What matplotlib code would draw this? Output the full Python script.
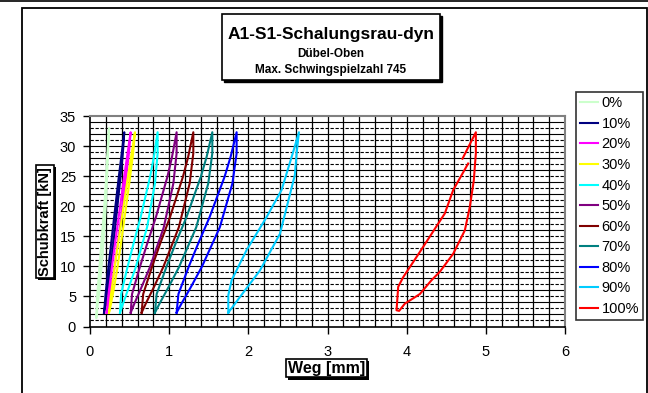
import matplotlib
matplotlib.use("Agg")
import matplotlib.pyplot as plt
from matplotlib.patches import Rectangle
from matplotlib.lines import Line2D
import matplotlib.patheffects as pe

plt.rcParams['font.family'] = ['Liberation Sans', 'DejaVu Sans']

y_up = [2.3, 5.4, 9.9, 13.8, 18.2, 24.9, 28.2, 32.3]
y_down = [28.8, 23.8, 16.5, 9.9, 6.6, 3.8, 2.3]

labels = ['0%', '10%', '20%', '30%', '40%', '50%', '60%', '70%', '80%', '90%', '100%']
colors = ['#CCFFCC', '#000080', '#FF00FF', '#FFFF00', '#00FFFF', '#800080',
          '#800000', '#008080', '#0000FF', '#00CCFF', '#FF0000']

# 0 %: almost a single line
x0 = [0.08, 0.09, 0.12, 0.15, 0.18, 0.205, 0.225, 0.24, 0.225, 0.20, 0.16, 0.12, 0.10, 0.085, 0.08]
y0 = [1.5, 5.0, 10.0, 15.0, 20.0, 25.0, 30.0, 33.0, 28.0, 20.0, 12.0, 6.0, 4.0, 2.0, 1.5]

x10 = [.177, .197, .233, .267, .305, .364, .395, .433, .415, .377, .318, .261, .228, .197, .177]
x20 = [.21, .234, .277, .316, .362, .431, .468, .513, .492, .446, .377, .310, .271, .234, .21]
x30 = [.24, .266, .312, .355, .404, .479, .519, .568, .545, .496, .420, .348, .306, .266, .24]
x40 = [.379, .393, .474, .550, .640, .759, .807, .854, .854, .821, .721, .579, .493, .417, .379]
x50 = [.514, .531, .630, .723, .833, .978, 1.036, 1.094, 1.094, 1.053, .932, .758, .653, .560, .514]
x60 = [.652, .672, .783, .887, 1.011, 1.174, 1.240, 1.305, 1.305, 1.259, 1.122, .926, .809, .704, .652]
x70 = [.82, .842, .965, 1.081, 1.219, 1.40, 1.473, 1.545, 1.545, 1.494, 1.342, 1.125, .994, .878, .82]
x80 = [1.094, 1.117, 1.246, 1.367, 1.511, 1.700, 1.776, 1.852, 1.852, 1.799, 1.640, 1.412, 1.276, 1.155, 1.094]

# 90 %
x90 = [1.747, 1.747, 1.789, 1.978, 2.231, 2.42, 2.567, 2.639,
       2.61, 2.588, 2.399, 2.146, 1.894, 1.747]
y90 = [2.3, 5.2, 7.7, 12.7, 18.2, 22.7, 29.05, 32.3,
       28.8, 25.2, 15.4, 9.3, 4.9, 2.3]

# 100 %
x100 = [4.705, 4.874, 4.874, 4.848, 4.798, 4.735, 4.588, 4.419, 4.314, 4.167, 3.977, 3.905,
        3.872, 3.893, 3.956, 4.167, 4.482, 4.588, 4.777]
y100 = [27.9, 32.3, 28.8, 24.3, 19.9, 16.0, 12.1, 9.1, 7.7, 5.4, 3.8, 2.6,
        2.7, 6.6, 8.2, 12.4, 18.8, 22.7, 27.1]

y_loop = y_up + y_down
series_x = [x0, x10, x20, x30, x40, x50, x60, x70, x80, x90, x100]
series_y = [y0, y_loop, y_loop, y_loop, y_loop, y_loop, y_loop, y_loop, y_loop, y90, y100]

W, H = 648, 393
fig = plt.figure(figsize=(W / 100, H / 100), dpi=100)

# outer frames
fig.add_artist(Line2D([0, 1], [1 - 1 / H, 1 - 1 / H], color='black', lw=1.2))
fig.add_artist(Rectangle((22 / W, -0.05), (647 - 22) / W, 1.05 - 8 / H, fill=False,
                         edgecolor='black', lw=1.3, transform=fig.transFigure))

ax = fig.add_axes([90 / W, (H - 326.5) / H, 475 / W, 210.5 / H])

for xs, ys, c, lab in zip(series_x, series_y, colors, labels):
    ax.plot(xs, ys, color=c, lw=1.5, label=lab)

ax.set_xlim(0, 6)
ax.set_ylim(0, 35)
ax.set_xticks(range(0, 7))
ax.set_yticks(range(0, 36, 5))
ax.tick_params(which='major', direction='out', length=5, width=1, labelsize=10.5, pad=5)
ax.tick_params(axis='x', which='major', pad=8)
# vertical grid every 0.2 mm, horizontal: dashed every kN, solid every 2 kN
for gx in [i * 0.2 for i in range(1, 30)]:
    ax.axvline(gx, color='black', lw=0.9, zorder=0.5)
for gy in range(1, 35, 2):
    ax.axhline(gy, color='black', lw=0.8, ls=(0, (3, 1.5)), zorder=0.5)
for gy in range(2, 35, 2):
    ax.axhline(gy, color='black', lw=0.8, zorder=0.5)
for s in ['top', 'right']:
    ax.spines[s].set_color('#808080')
    ax.spines[s].set_linewidth(1.5)
ax.spines['left'].set_linewidth(1.2)
ax.spines['bottom'].set_linewidth(1.2)

# title box
fig.add_artist(Rectangle((224 / W, 1 - 82 / H), 218 / W, 66 / H, facecolor='black',
                         edgecolor='black', transform=fig.transFigure))
fig.add_artist(Rectangle((222 / W, 1 - 80 / H), 218 / W, 66 / H, facecolor='white',
                         edgecolor='black', lw=1.2, transform=fig.transFigure))
fig.text(331 / W, 1 - 34 / H, 'A1-S1-Schalungsrau-dyn', ha='center', va='center',
         fontsize=12.5, fontweight='bold')
fig.text(331 / W, 1 - 54 / H, 'Dübel-Oben', ha='center', va='center',
         fontsize=8.5, fontweight='bold')
fig.text(331 / W, 1 - 70 / H, 'Max. Schwingspielzahl 745', ha='center', va='center',
         fontsize=8.5, fontweight='bold')

shadow = [pe.SimplePatchShadow(offset=(1.5, -1.5), shadow_rgbFace='black', alpha=1), pe.Normal()]
ty = fig.text(45 / W, 1 - 221.5 / H, 'Schubkraft [kN]', rotation=90, ha='center', va='center',
              fontsize=10.5, fontweight='bold',
              bbox=dict(boxstyle='square,pad=0.15', facecolor='white', edgecolor='black', lw=1.2))
tx = fig.text(326.7 / W, 1 - 368 / H, 'Weg [mm]', ha='center', va='center',
              fontsize=11.5, fontweight='bold',
              bbox=dict(boxstyle='square,pad=0.12', facecolor='white', edgecolor='black', lw=1.2))
fig.canvas.draw()
ty.get_bbox_patch().set_path_effects(shadow)
tx.get_bbox_patch().set_path_effects(shadow)

leg = fig.legend(loc='upper left', bbox_to_anchor=(576 / W, 1 - 92 / H), fontsize=10.5,
                 frameon=True, fancybox=False, edgecolor='black', handlelength=1.2,
                 handletextpad=0.25, labelspacing=0.45, borderpad=0.3, borderaxespad=0)
leg.get_frame().set_linewidth(1.2)
for ln in leg.get_lines():
    ln.set_linewidth(1.5)

fig.savefig('out.png', dpi=100)
